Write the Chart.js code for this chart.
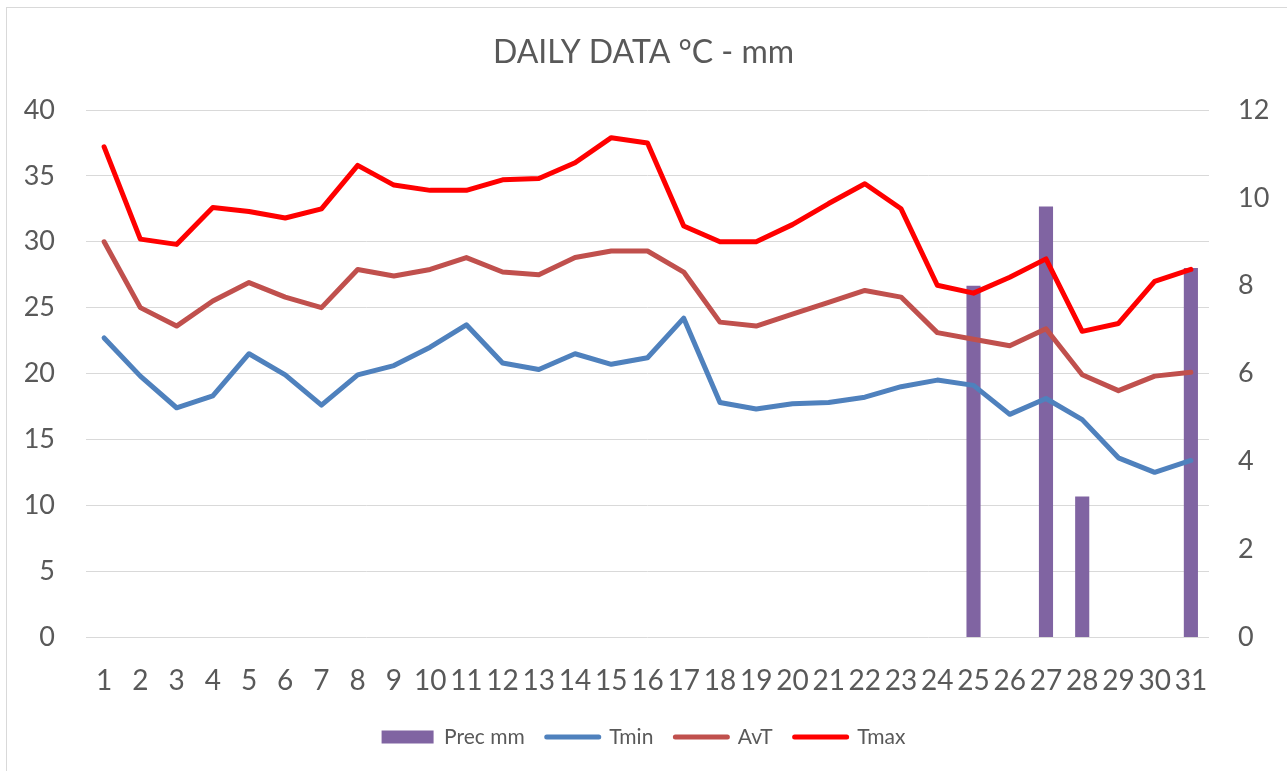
<!DOCTYPE html>
<html>
<head>
<meta charset="utf-8">
<title>Daily data</title>
<script src="https://cdn.jsdelivr.net/npm/chart.js@4.4.0/dist/chart.umd.min.js"></script>
<style>
  html, body { margin: 0; padding: 0; background: #fff; }
  #wrap { position: relative; width: 1287px; height: 771px; overflow: hidden; }
  #frame { position: absolute; left: 6px; top: 7px; width: 1300px; height: 800px;
           border: 1px solid #d9d9d9; box-sizing: border-box; pointer-events: none; }
  #chart { position: absolute; left: 0; top: 0; }
</style>
</head>
<body>
<div id="wrap">
  <div id="frame"></div>
  <canvas id="chart" width="1287" height="771"></canvas>
</div>
<script>
// dati
const days = ["1","2","3","4","5","6","7","8","9","10","11","12","13","14","15","16",
              "17","18","19","20","21","22","23","24","25","26","27","28","29","30","31"];

const precMm = [null, null, null, null, null, null, null, null, null, null, null, null,
                null, null, null, null, null, null, null, null, null, null, null, null,
                8.0, null, 9.8, 3.2, null, null, 8.4];

const tmin = [22.7, 19.8, 17.4, 18.3, 21.5, 19.9, 17.6, 19.9, 20.6, 22.0, 23.7, 20.8,
              20.3, 21.5, 20.7, 21.2, 24.2, 17.8, 17.3, 17.7, 17.8, 18.2, 19.0, 19.5,
              19.1, 16.9, 18.1, 16.5, 13.6, 12.5, 13.4];

const avt = [30.0, 25.0, 23.6, 25.5, 26.9, 25.8, 25.0, 27.9, 27.4, 27.9, 28.8, 27.7,
             27.5, 28.8, 29.3, 29.3, 27.7, 23.9, 23.6, 24.5, 25.4, 26.3, 25.8, 23.1,
             22.6, 22.1, 23.4, 19.9, 18.7, 19.8, 20.1];

const tmax = [37.2, 30.2, 29.8, 32.6, 32.3, 31.8, 32.5, 35.8, 34.3, 33.9, 33.9, 34.7,
              34.8, 36.0, 37.9, 37.5, 31.2, 30.0, 30.0, 31.3, 32.9, 34.4, 32.5, 26.7,
              26.1, 27.3, 28.7, 23.2, 23.8, 27.0, 27.9];

const tempTicks = { min: 0, max: 40, step: 5 };
const precTicks = { min: 0, max: 12, step: 2 };

const textColor = "#595959";
const gridColor = "#d9d9d9";

Chart.defaults.font.family = "Lato, 'Noto Sans', sans-serif";
Chart.defaults.color = textColor;

function lineSet(label, data, color, order) {
  return {
    type: "line",
    label: label,
    data: data,
    borderColor: color,
    backgroundColor: color,
    borderWidth: 5,
    borderCapStyle: "round",
    borderJoinStyle: "round",
    pointRadius: 0,
    pointHoverRadius: 0,
    tension: 0,
    yAxisID: "y",
    order: order
  };
}

const ctx = document.getElementById("chart");

new Chart(ctx, {
  data: {
    labels: days,
    datasets: [
      {
        type: "bar",
        label: "Prec mm",
        data: precMm,
        backgroundColor: "#8064a2",
        borderWidth: 0,
        barPercentage: 0.39,
        categoryPercentage: 1,
        yAxisID: "y1",
        order: 4
      },
      lineSet("Tmin", tmin, "#4f81bd", 3),
      lineSet("AvT", avt, "#c0504d", 2),
      lineSet("Tmax", tmax, "#ff0000", 1)
    ]
  },
  options: {
    responsive: false,
    animation: false,
    layout: { padding: { left: 0, right: 0, top: 0, bottom: 13.5 } },
    plugins: {
      title: {
        display: true,
        text: "DAILY DATA °C - mm",
        color: textColor,
        font: { size: 32, weight: "normal" },
        padding: { top: 33.3, bottom: 38.3 }
      },
      legend: {
        position: "bottom",
        labels: {
          usePointStyle: true,
          pointStyleWidth: 52,
          boxHeight: 13,
          padding: 22,
          color: textColor,
          font: { size: 21 },
          generateLabels: function(chart) {
            return chart.data.datasets.map(function(ds, i) {
              let isBar = ds.type === "bar";
              return {
                text: ds.label,
                datasetIndex: i,
                fillStyle: ds.backgroundColor,
                strokeStyle: isBar ? ds.backgroundColor : ds.borderColor,
                lineWidth: isBar ? 0 : 5,
                lineCap: "round",
                pointStyle: isBar ? "rect" : "line",
                hidden: false,
                fontColor: textColor
              };
            });
          }
        }
      },
      tooltip: { enabled: false }
    },
    scales: {
      x: {
        grid: { display: false, drawTicks: false },
        border: { display: false },
        ticks: { font: { size: 28 }, padding: 27, maxRotation: 0, autoSkip: false },
        afterFit: function(scale) { scale.height = 67.5; }
      },
      y: {
        position: "left",
        min: tempTicks.min,
        max: tempTicks.max,
        grid: { color: gridColor, lineWidth: 1, drawTicks: false },
        border: { display: false },
        ticks: { stepSize: tempTicks.step, font: { size: 27 }, padding: 31 },
        afterFit: function(scale) { scale.width = 86; }
      },
      y1: {
        position: "right",
        min: precTicks.min,
        max: precTicks.max,
        grid: { display: false, drawTicks: false },
        border: { display: false },
        ticks: { stepSize: precTicks.step, font: { size: 27 }, padding: 29 },
        afterFit: function(scale) { scale.width = 78; }
      }
    }
  }
});
</script>
</body>
</html>
